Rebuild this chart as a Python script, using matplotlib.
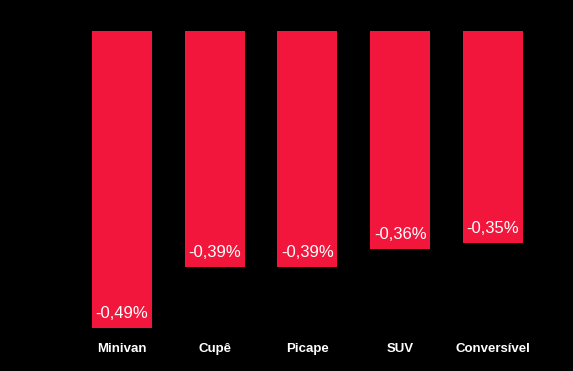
import matplotlib
matplotlib.use("Agg")
from matplotlib import pyplot as plt

plt.rcParams["font.family"] = ["Liberation Sans", "DejaVu Sans"]

categories = ["Minivan", "Cupê", "Picape", "SUV", "Conversível"]
values = [-0.49, -0.39, -0.39, -0.36, -0.35]
labels = ["-0,49%", "-0,39%", "-0,39%", "-0,36%", "-0,35%"]

fig = plt.figure(figsize=(5.73, 3.71), dpi=100, facecolor="black")
ax = fig.add_axes([0.132, 0.0836, 0.809, 0.8329], facecolor="black")

x = list(range(len(categories)))
ax.bar(x, values, width=0.647, color="#F2163C")

for i in range(len(values)):
    ax.annotate(labels[i], (x[i], values[i]), xytext=(0, 10.5), textcoords="offset points",
                ha="center", va="center", color="white", fontsize=12)

ax.set_xlim(-0.5, 4.5)
ax.set_ylim(-0.51, 0)
ax.set_xticks(x)
ax.set_xticklabels(categories, color="white", fontsize=9.5, fontweight="bold")
ax.tick_params(axis="x", length=0, pad=2)
ax.set_yticks([])
for s in ax.spines.values():
    s.set_visible(False)

plt.savefig("out.png", dpi=100, facecolor="black")
